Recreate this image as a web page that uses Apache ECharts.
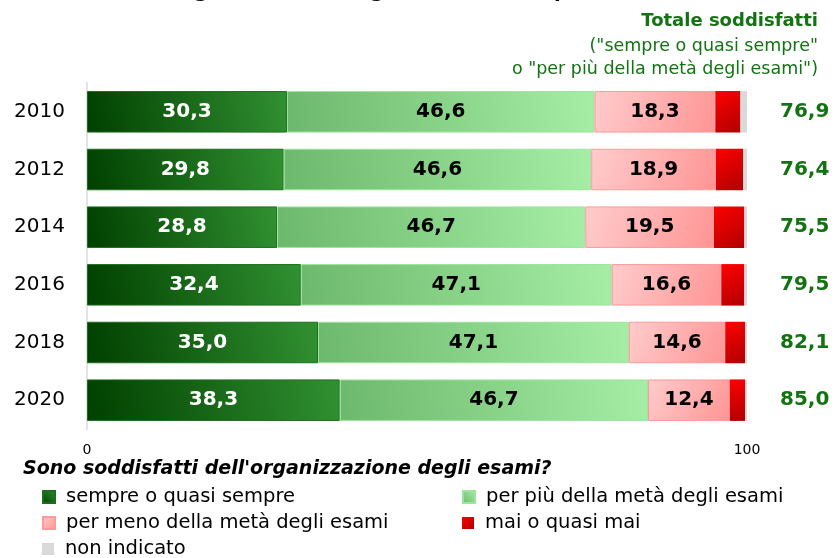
<!DOCTYPE html>
<html>
<head>
<meta charset="utf-8">
<script src="https://cdn.jsdelivr.net/npm/echarts@6/dist/echarts.min.js"></script>
<style>
    html, body { margin: 0; padding: 0; background: #fff; }
    #chart { width: 835px; height: 558px; }
</style>
</head>
<body>
<div id="chart"></div>
<script>
    var years = ['2010', '2012', '2014', '2016', '2018', '2020'];
    var sempre = [30.3, 29.8, 28.8, 32.4, 35.0, 38.3];
    var piuMeta = [46.6, 46.6, 46.7, 47.1, 47.1, 46.7];
    var menoMeta = [18.3, 18.9, 19.5, 16.6, 14.6, 12.4];
    var mai = [3.8, 4.1, 4.6, 3.5, 3.0, 2.3];
    var nonIndicato = [1.0, 0.6, 0.4, 0.4, 0.3, 0.3];
    var totali = [76.9, 76.4, 75.5, 79.5, 82.1, 85.0];
    var xTicks = [0, 100];

    var FONT = 'DejaVu Sans';
    var GREEN = '#137313';
    var fmt = function (v) { return v.toFixed(1).replace('.', ','); };

    function grad(c1, c2, diag) {
        // 'up': scuro in basso a sinistra; 'down': chiaro in alto a sinistra
        var g = diag === 'up' ? [0, 1, 1, 0] : [0, 0, 1, 1];
        return new echarts.graphic.LinearGradient(g[0], g[1], g[2], g[3], [
            { offset: 0, color: c1 },
            { offset: 1, color: c2 }
        ]);
    }

    function barSeries(name, data, color, border, labelColor) {
        return {
            name: name,
            type: 'bar',
            stack: 'tot',
            barWidth: '72%',
            data: data,
            itemStyle: { color: color, borderColor: border, borderWidth: border ? 1 : 0 },
            label: {
                show: !!labelColor,
                position: 'inside',
                color: labelColor,
                fontFamily: FONT,
                fontWeight: 'bold',
                fontSize: 20,
                formatter: function (p) { return fmt(p.value); }
            },
            emphasis: { disabled: true }
        };
    }

    // una legenda per voce, disposte su due colonne
    function legendItem(name, left, rowY) {
        return {
            left: left,
            top: rowY - 10,
            padding: 0,
            icon: 'rect',
            itemWidth: 12,
            itemHeight: 12,
            selectedMode: false,
            data: [name],
            textStyle: { fontFamily: FONT, fontSize: 19.5, lineHeight: 20, color: '#000', padding: [0, 0, 0, 6] }
        };
    }

    var chart = echarts.init(document.getElementById('chart'));
    chart.setOption({
        animation: false,
        textStyle: { fontFamily: FONT },
        title: [
            {
                text: 'Organizzazione degli esami (valori percentuali)',
                left: 168,
                top: -18,
                padding: 0,
                textStyle: { fontFamily: FONT, fontSize: 19.5, fontWeight: 'bold', color: '#000' }
            },
            {
                text: 'Totale soddisfatti',
                right: 17,
                top: 12,
                padding: 0,
                textStyle: { fontFamily: FONT, fontSize: 18, fontWeight: 'bold', color: GREEN }
            },
            {
                text: '("sempre o quasi sempre"',
                right: 17,
                top: 37,
                padding: 0,
                textStyle: { fontFamily: FONT, fontSize: 17.5, fontWeight: 'normal', color: GREEN }
            },
            {
                text: 'o "per più della metà degli esami")',
                right: 17,
                top: 60,
                padding: 0,
                textStyle: { fontFamily: FONT, fontSize: 17.5, fontWeight: 'normal', color: GREEN }
            },
            {
                text: "Sono soddisfatti dell'organizzazione degli esami?",
                left: 23,
                top: 460,
                padding: 0,
                textStyle: { fontFamily: FONT, fontSize: 19, fontWeight: 'bold', fontStyle: 'italic', color: '#000' }
            }
        ],
        legend: [
            legendItem('sempre o quasi sempre', 42, 497),
            legendItem('per meno della metà degli esami', 42, 523),
            legendItem('non indicato', 42, 549),
            legendItem('per più della metà degli esami', 462, 497),
            legendItem('mai o quasi mai', 462, 523)
        ],
        grid: { left: 87, right: 88, top: 83, bottom: 129 },
        xAxis: {
            type: 'value',
            min: xTicks[0],
            max: xTicks[1],
            interval: 100,
            axisLine: { show: false },
            axisTick: { show: false },
            splitLine: { show: false },
            axisLabel: { color: '#000', fontSize: 14, margin: 14 }
        },
        yAxis: [
            {
                type: 'category',
                data: years,
                inverse: true,
                axisLine: { show: true, lineStyle: { color: '#e3e3e3', width: 2 } },
                axisTick: { show: false },
                axisLabel: { color: '#000', fontSize: 20, margin: 22 }
            },
            {
                type: 'category',
                data: totali.map(fmt),
                inverse: true,
                position: 'right',
                axisLine: { show: false },
                axisTick: { show: false },
                axisLabel: { color: GREEN, fontSize: 20, fontWeight: 'bold', margin: 33 }
            }
        ],
        series: [
            barSeries('sempre o quasi sempre', sempre, grad('#003f00', '#319131', 'up'), '#1d6f1d', '#fff'),
            barSeries('per più della metà degli esami', piuMeta, grad('#6cb86c', '#a6eea6', 'up'), '#9ee49e', '#000'),
            barSeries('per meno della metà degli esami', menoMeta, grad('#ffcccc', '#ff9494', 'down'), '#ff9a9a', '#000'),
            barSeries('mai o quasi mai', mai, grad('#ff0000', '#b00000', 'down'), null, null),
            barSeries('non indicato', nonIndicato, '#d9d9d9', null, null)
        ]
    });
</script>
</body>
</html>
